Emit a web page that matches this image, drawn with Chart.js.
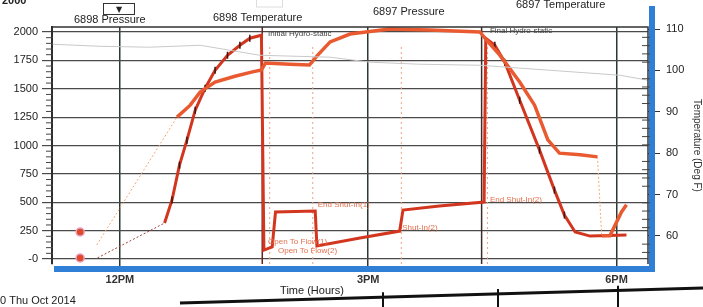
<!DOCTYPE html>
<html>
<head>
<meta charset="utf-8">
<script src="https://cdn.jsdelivr.net/npm/chart.js@4.4.1/dist/chart.umd.min.js"></script>
<style>
  html, body { margin: 0; padding: 0; background: #fff; }
  #wrap { position: relative; width: 703px; height: 307px; }
</style>
</head>
<body>
<div id="wrap"><canvas id="myChart" width="703" height="307"></canvas></div>
<script>
// hours of day (decimal), pressure in psi (left), temperature in deg F (right)
const pressureHours = [11.73, 12.54, 12.63, 12.72, 12.81, 12.91, 13.03, 13.15, 13.30, 13.45, 13.57, 13.71, 13.74, 13.84, 13.88, 14.36, 14.38, 14.90, 15.38, 15.42, 15.86, 16.40, 16.42, 16.53, 16.65, 16.83, 17.07, 17.25, 17.37, 17.50, 17.68, 18.12];
const pressureValues = [10, 317, 520, 827, 1047, 1311, 1505, 1663, 1795, 1883, 1945, 1971, 79, 106, 414, 422, 114, 185, 246, 431, 466, 502, 1945, 1883, 1734, 1399, 959, 607, 387, 238, 202, 211];

const tempHours = [11.72, 12.69, 12.85, 12.97, 13.15, 13.39, 13.59, 13.71, 13.76, 14.05, 14.29, 14.39, 14.54, 14.78, 15.26, 15.74, 16.35, 16.43, 16.59, 16.83, 17.01, 17.17, 17.31, 17.56, 17.77, 17.82, 17.92, 18.06, 18.12];
const tempValues = [57.8, 88.7, 91.6, 94.8, 97.2, 98.6, 99.6, 100.1, 101.8, 101.5, 101.3, 103.7, 106.9, 108.8, 110.0, 109.8, 109.3, 107.3, 103.7, 97.2, 91.6, 83.2, 80.0, 79.6, 79.1, 60.0, 60.0, 65.8, 67.5];

const refHours = [11.18, 11.76, 12.36, 12.97, 13.69, 14.54, 15.02, 15.62, 16.35, 17.19, 18.04, 18.38];
const refValues = [1892, 1874, 1866, 1883, 1795, 1778, 1734, 1716, 1707, 1663, 1619, 1575];

const startHours = [11.52, 11.52];
const startValues = [238, 9];

const pressureTicks = [0, 250, 500, 750, 1000, 1250, 1500, 1750, 2000];
const tempTicks = [60, 70, 80, 90, 100, 110];
const timeTicks = [12, 15, 18];
const timeTickLabels = ['12PM', '3PM', '6PM'];

const eventSolidHours = [13.72, 16.37];
const eventDottedHours = [13.81, 14.33, 15.40, 16.44];

const noteTexts = ['Initial Hydro-static', 'Final Hydro-static', 'End Shut-In(1)', 'Open To Flow(1)', 'Open To Flow(2)', 'Shut-In(2)', 'End Shut-In(2)'];
const noteHours = [13.79, 16.47, 14.39, 13.79, 13.91, 15.41, 16.47];
const notePressures = [1985, 2010, 475, 150, 70, 273, 519];

Chart.defaults.font.family = "'Liberation Sans', Arial, sans-serif";
Chart.defaults.color = '#222';

const toXY = (xs, ys) => xs.map((x, i) => ({x: x, y: ys[i]}));

const decor = {
  id: 'decor',
  beforeDatasetsDraw(chart) {
    const c = chart.ctx, a = chart.chartArea, xs = chart.scales.x;
    c.save();
    eventSolidHours.forEach((h, i) => {
      const px = xs.getPixelForValue(h);
      c.strokeStyle = i === 0 ? '#6e1f1f' : '#3b2b2b';
      c.lineWidth = 1.5;
      c.beginPath(); c.moveTo(px, a.top); c.lineTo(px, a.bottom); c.stroke();
    });
    c.setLineDash([2, 3]);
    eventDottedHours.forEach(h => {
      const px = xs.getPixelForValue(h);
      c.strokeStyle = '#f0a080';
      c.lineWidth = 1;
      c.beginPath(); c.moveTo(px, a.top + 20); c.lineTo(px, a.bottom); c.stroke();
    });
    c.restore();
  },
  afterDraw(chart) {
    const c = chart.ctx, a = chart.chartArea;
    const xs = chart.scales.x, yl = chart.scales.y, yr = chart.scales.y1;
    c.save();
    // blue shadow bands
    c.fillStyle = '#2f7fd6';
    c.fillRect(a.right + 1, 6, 6, a.bottom - 6 + 8);
    c.fillRect(a.left + 2, a.bottom + 2, a.right - a.left + 5, 6);
    // frame
    c.strokeStyle = '#333';
    c.lineWidth = 1.5;
    c.beginPath();
    c.moveTo(a.left, a.bottom); c.lineTo(a.left, a.top); c.lineTo(a.right, a.top); c.lineTo(a.right, a.bottom);
    c.stroke();
    // minor ticks
    c.lineWidth = 1;
    c.strokeStyle = '#444';
    for (let v = 50; v < 2040; v += 50) {
      if (v % 250 === 0) continue;
      const py = yl.getPixelForValue(v);
      c.beginPath(); c.moveTo(a.left - 6, py); c.lineTo(a.left + 1, py); c.stroke();
    }
    for (let v = 56; v <= 110; v += 2) {
      if (v % 10 === 0) continue;
      const py = yr.getPixelForValue(v);
      c.beginPath(); c.moveTo(a.right - 6, py); c.lineTo(a.right + 2, py); c.stroke();
    }
    // notes
    c.font = "8px 'Liberation Sans', Arial, sans-serif";
    c.textBaseline = 'middle';
    noteTexts.forEach((t, i) => {
      c.fillStyle = i < 2 ? '#444' : '#e2704e';
      c.fillText(t, xs.getPixelForValue(noteHours[i]), yl.getPixelForValue(notePressures[i]));
    });
    // header labels
    c.fillStyle = '#222';
    c.font = "11px 'Liberation Sans', Arial, sans-serif";
    c.textBaseline = 'alphabetic';
    c.fillText('6898 Pressure', 74, 23);
    c.fillText('6898 Temperature', 213, 21);
    c.fillText('6897 Pressure', 373, 15);
    c.fillText('6897 Temperature', 516, 8);
    c.font = "bold 11px 'Liberation Sans', Arial, sans-serif";
    c.fillText('2000', 2, 4);
    // dropdown box
    c.strokeStyle = '#333';
    c.lineWidth = 1;
    c.strokeRect(103.5, 3.5, 31, 11);
    c.font = "8px 'DejaVu Sans', sans-serif";
    c.textAlign = 'center';
    c.fillText('\u25BC', 119, 12);
    c.strokeStyle = '#ddd';
    c.strokeRect(256.5, -2, 26, 9);
    // axis title and date
    c.font = "11px 'Liberation Sans', Arial, sans-serif";
    c.fillStyle = '#222';
    c.fillText('Time (Hours)', 312, 294);
    c.textAlign = 'left';
    c.fillText('0 Thu Oct 2014', 0, 304);
    // table border below
    c.strokeStyle = '#111';
    c.lineWidth = 3;
    c.beginPath(); c.moveTo(180, 303); c.lineTo(703, 288); c.stroke();
    c.lineWidth = 2;
    [383, 498, 618].forEach(x => {
      c.beginPath(); c.moveTo(x, 298 - (x - 180) * 0.028); c.lineTo(x, 307); c.stroke();
    });
    c.restore();
  }
};

new Chart(document.getElementById('myChart').getContext('2d'), {
  type: 'scatter',
  data: {
    datasets: [
      {
        label: 'Reference',
        data: toXY(refHours, refValues),
        showLine: true,
        borderColor: '#c9c9c9',
        borderWidth: 1,
        pointRadius: 0,
        yAxisID: 'y'
      },
      {
        label: '6898 Temperature',
        data: toXY(tempHours, tempValues),
        showLine: true,
        borderColor: '#ea5a30',
        borderWidth: 3.5,
        pointRadius: 0,
        yAxisID: 'y1',
        segment: {
          borderDash: ctx => (ctx.p0DataIndex === 0 || ctx.p0DataIndex === 24) ? [2, 2] : undefined,
          borderWidth: ctx => (ctx.p0DataIndex === 0 || ctx.p0DataIndex === 24) ? 1 : 3.5,
          borderColor: ctx => (ctx.p0DataIndex === 0 || ctx.p0DataIndex === 24) ? '#f2a878' : '#ea5a30'
        }
      },
      {
        label: '6898 Pressure',
        data: toXY(pressureHours, pressureValues),
        showLine: true,
        borderColor: '#d3361f',
        borderWidth: 3,
        pointStyle: 'line',
        rotation: 90,
        pointRadius: ctx => {
          const h = pressureHours[ctx.dataIndex];
          return ((h > 12.6 && h < 13.7) || (h > 16.45 && h < 17.5)) ? 3.5 : 0;
        },
        pointBorderColor: '#3a1512',
        pointBorderWidth: 1.5,
        yAxisID: 'y',
        segment: {
          borderDash: ctx => ctx.p0DataIndex === 0 ? [2, 2] : undefined,
          borderWidth: ctx => ctx.p0DataIndex === 0 ? 1 : 3,
          borderColor: ctx => ctx.p0DataIndex === 0 ? '#a04040' : '#d3361f'
        }
      },
      {
        label: 'Start',
        data: toXY(startHours, startValues),
        pointStyle: 'circle',
        pointRadius: 4,
        pointBackgroundColor: '#e04a2a',
        pointBorderColor: '#e8a0c0',
        pointBorderWidth: 1.5,
        yAxisID: 'y'
      }
    ]
  },
  options: {
    responsive: false,
    animation: false,
    layout: { padding: { top: 27, right: 0, left: 0, bottom: 0 } },
    plugins: { legend: { display: false }, tooltip: { enabled: false } },
    scales: {
      x: {
        type: 'linear',
        min: 11.18,
        max: 18.38,
        afterBuildTicks: s => { s.ticks = timeTicks.map(v => ({value: v})); },
        afterFit: s => { s.height = 43; },
        ticks: {
          callback: v => timeTickLabels[timeTicks.indexOf(v)],
          font: { size: 11, weight: 'bold' },
          color: '#333',
          padding: 2,
          maxRotation: 0
        },
        grid: { color: '#2a3a30', lineWidth: 1.5, tickLength: 7 },
        border: { display: false }
      },
      y: {
        position: 'left',
        min: -44,
        max: 2044,
        afterBuildTicks: s => { s.ticks = pressureTicks.map(v => ({value: v})); },
        afterFit: s => { s.width = 52; },
        ticks: {
          callback: v => v === 0 ? '-0' : String(v),
          font: { size: 11 },
          color: '#222',
          padding: 4
        },
        grid: { color: '#4a4a4a', lineWidth: 1.2, tickLength: 10 },
        border: { display: true, color: '#222', width: 2 }
      },
      y1: {
        position: 'right',
        min: 53.2,
        max: 110.5,
        afterBuildTicks: s => { s.ticks = tempTicks.map(v => ({value: v})); },
        afterFit: s => { s.width = 55; },
        ticks: {
          font: { size: 11 },
          color: '#222',
          padding: 6
        },
        title: {
          display: true,
          text: 'Temperature (Deg F)',
          font: { size: 10 },
          color: '#333',
          padding: 0
        },
        grid: { drawOnChartArea: false, color: '#333', tickLength: 12 },
        border: { display: false }
      }
    }
  },
  plugins: [decor]
});
</script>
</body>
</html>
